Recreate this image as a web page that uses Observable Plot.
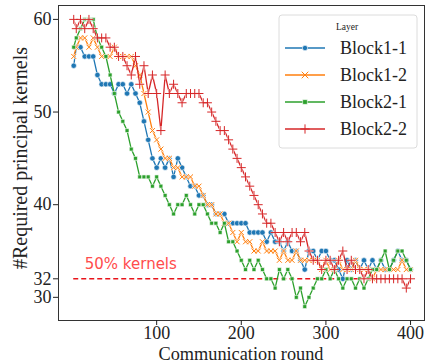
<!DOCTYPE html>
<html><head><meta charset="utf-8">
<script src="https://cdn.jsdelivr.net/npm/d3@7"></script>
<script src="https://cdn.jsdelivr.net/npm/@observablehq/plot@0.6"></script>
<style>body{margin:0;background:#fff}#chart{position:relative;width:425px;height:364px}</style>
</head><body><div id="chart"></div>
<script>
const rounds = [2,5,10,15,20,25,30,35,40,45,50,55,60,65,70,75,80,85,90,95,
  100,105,110,115,120,125,130,135,140,145,150,155,160,165,170,175,180,185,190,195,
  200,205,210,215,220,225,230,235,240,245,250,255,260,265,270,275,280,285,290,295,
  300,305,310,315,320,325,330,335,340,345,350,355,360,365,370,375,380,385,390,395,400];
const block11 = [55,57,57,56,56,56,54,53,53,53,
  52,53,53,52,53,52,51,49,47,45,
  44,45,44,45,43,45,44,43,42,42,
  41,41,40,40,39,39,39,38,38,38,
  38,38,37,37,37,37,36,37,36,36,
  35,36,35,35,34,33,35,35,34,35,
  35,34,34,33,32,34,33,34,33,34,
  33,34,33,34,33,33,34,35,34,34,33];
const block12 = [56,57,58,58,57,58,57,56,56,56,
  57,56,56,56,56,55,54,52,50,48,
  47,46,45,45,44,44,43,43,43,42,
  42,41,40,40,39,39,38,38,37,36,
  37,36,36,35,35,36,35,35,35,34,
  35,34,34,35,34,34,34,34,34,33,
  34,33,33,34,33,33,33,34,33,33,
  33,32,33,33,33,33,33,33,34,33,33];
const block21 = [57,58,59,60,60,60,58,57,56,54,
  52,50,49,48,46,45,43,43,43,42,
  43,42,41,40,39,40,40,41,40,39,
  40,40,39,38,38,37,38,36,36,35,
  34,33,34,33,34,33,32,32,31,33,
  32,33,32,30,31,29,30,31,32,32,
  33,32,33,32,31,32,32,31,32,31,
  32,33,33,34,35,33,34,35,35,34,33];
const block22 = [60,59,60,59,60,59,58,58,58,57,
  57,56,56,55,54,56,53,55,52,54,
  52,48,54,52,53,52,51,52,52,52,
  52,51,51,50,49,48,48,47,46,45,
  44,43,42,41,40,39,38,38,37,36,
  37,36,37,37,36,37,35,34,34,33,
  34,34,33,34,35,33,34,33,33,32,
  33,32,32,32,32,32,32,32,32,31,32];
const layers = ["Block1-1","Block1-2","Block2-1","Block2-2"];
const colors = ["#1f77b4","#ff7f0e","#2ca02c","#d62728"];
const symbols = ["circle","times","square","plus"];
const yTicks = [30,32,40,50,60];
const xTicks = [100,200,300,400];
const threshold = 32;
const thresholdLabel = "50% kernels";
const labelPos = {x: 15, y: 33.1};
const SERIF = "'Liberation Serif', 'Times New Roman', serif";

const seriesValues = [block11, block12, block21, block22];
const marks = [
  Plot.ruleY([threshold], {x1: rounds[0], x2: rounds[rounds.length-1], stroke: "#e8141a", strokeWidth: 1.4, strokeDasharray: "5,3"}),
  Plot.text([labelPos], {x: "x", y: "y", text: () => thresholdLabel, textAnchor: "start", fill: "#ff4c4c", fontSize: 15, fontFamily: "'DejaVu Sans', sans-serif", lineAnchor: "bottom"})
];
seriesValues.forEach((vals, k) => {
  const d = rounds.map((r, i) => ({round: r, value: vals[i]}));
  marks.push(Plot.line(d, {x: "round", y: "value", stroke: colors[k], strokeWidth: 1.3}));
  const stroked = symbols[k] === "times" || symbols[k] === "plus";
  const rr = [2.7, 2.4, 2.2, 3.0][k];
  if (stroked) {
    marks.push(Plot.dot(d, {x: "round", y: "value", symbol: () => symbols[k], r: rr,
      fill: "none", stroke: "white", strokeWidth: 2.2, strokeOpacity: 0.8}));
  }
  marks.push(Plot.dot(d, {x: "round", y: "value", symbol: () => symbols[k], r: rr,
    fill: stroked ? "none" : colors[k],
    stroke: stroked ? colors[k] : "white",
    strokeWidth: stroked ? 1 : 0.6}));
});
marks.push(Plot.frame({stroke: "#333", strokeWidth: 1}));
marks.push(Plot.axisX({ticks: xTicks, tickSize: 5, tickPadding: 1, label: null, fontSize: 18, fontFamily: SERIF}));
marks.push(Plot.axisY({ticks: yTicks, tickSize: 5, tickPadding: 2, label: null, fontSize: 18, fontFamily: SERIF}));

const chart = Plot.plot({
  width: 425, height: 364,
  marginLeft: 58, marginRight: 1, marginTop: 5, marginBottom: 44,
  style: {fontSize: "18px", color: "#222", background: "white"},
  x: {domain: [-16, 416.5]},
  y: {domain: [27.5, 61.5]},
  symbol: {type: "identity"},
  marks
});
chart.style.fontFamily = SERIF;
document.getElementById("chart").appendChild(chart);

const svg = d3.select(chart);
svg.append("text").attr("x", 241).attr("y", 360).attr("text-anchor", "middle")
  .attr("font-family", SERIF).attr("font-size", 18.3).attr("fill", "#222").text("Communication round");
svg.append("text").attr("transform", "translate(27,158) rotate(-90)").attr("text-anchor", "middle")
  .attr("font-family", SERIF).attr("font-size", 20).attr("fill", "#222").text("#Required principal kernels");

const lg = svg.append("g").attr("font-family", SERIF).attr("text-anchor", "start");
lg.append("rect").attr("x", 279).attr("y", 15).attr("width", 138).attr("height", 133)
  .attr("rx", 3).attr("fill", "white").attr("fill-opacity", 0.9).attr("stroke", "#dcdcdc");
lg.append("text").attr("x", 347).attr("y", 30).attr("text-anchor", "middle")
  .attr("font-size", 9.5).attr("fill", "#222").text("Layer");
layers.forEach((name, k) => {
  const cy = 48 + k * 27;
  lg.append("line").attr("x1", 285).attr("x2", 325).attr("y1", cy).attr("y2", cy)
    .attr("stroke", colors[k]).attr("stroke-width", 1.5);
  const sym = {circle: d3.symbolCircle, times: d3.symbolTimes, square: d3.symbolSquare, plus: d3.symbolPlus}[symbols[k]];
  const stroked = symbols[k] === "times" || symbols[k] === "plus";
  lg.append("path").attr("transform", `translate(305,${cy})`)
    .attr("d", d3.symbol(sym, stroked ? 30 : 22)())
    .attr("fill", stroked ? "none" : colors[k]).attr("stroke", stroked ? colors[k] : "white")
    .attr("stroke-width", stroked ? 1 : 0.6);
  lg.append("text").attr("x", 340).attr("y", cy + 6).attr("font-size", 18)
    .attr("text-anchor", "start").attr("fill", "#222").text(name);
});
</script></body></html>
